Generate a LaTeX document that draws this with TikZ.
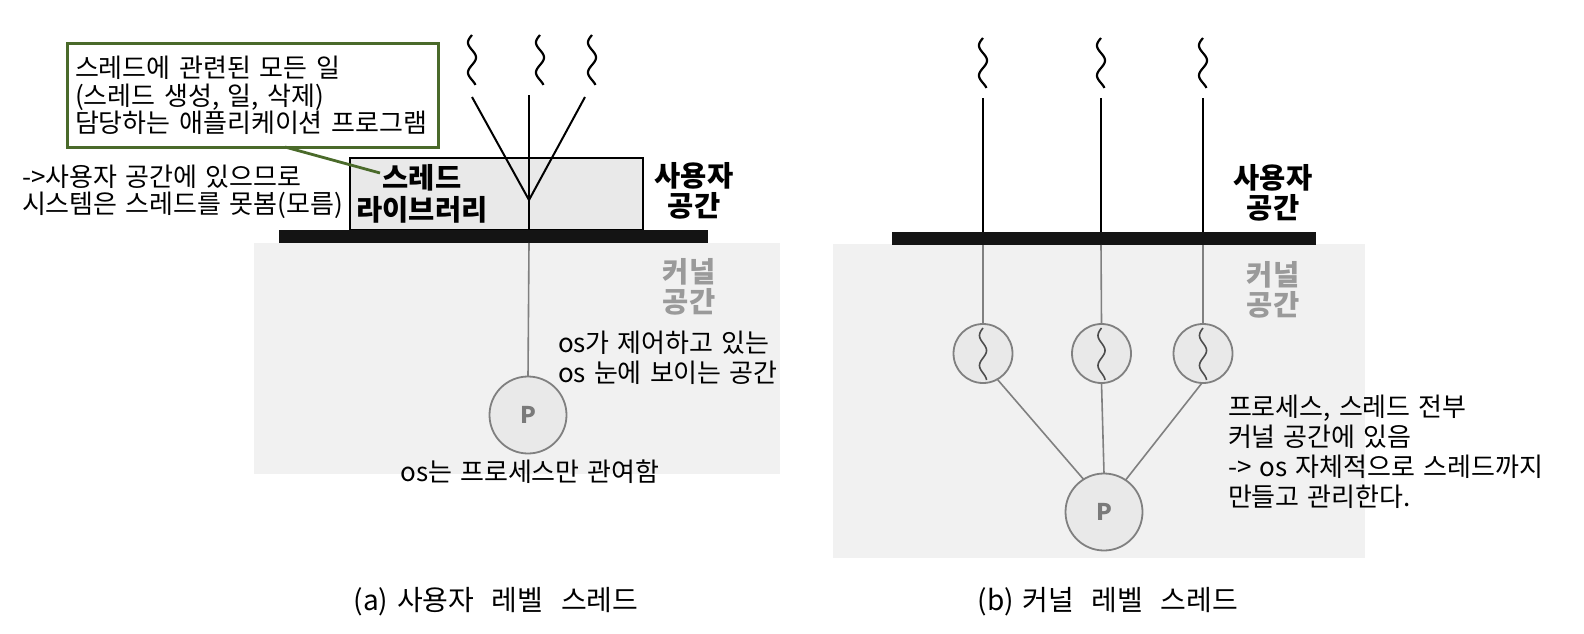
\documentclass[tikz,border=0pt]{standalone}
\usepackage{fontspec}
\setmainfont{Noto Sans CJK KR}[WordSpace=1.4]
\usetikzlibrary{calc}
\definecolor{kgray}{HTML}{F1F1F1}
\definecolor{libfill}{HTML}{E9E9E9}
\definecolor{cgreen}{HTML}{4A6A2A}
\definecolor{lgray}{HTML}{808080}
\definecolor{tgray}{HTML}{9A9A9A}
\definecolor{pgray}{HTML}{7A7A7A}
\definecolor{barblack}{HTML}{141414}
\begin{document}
\begin{tikzpicture}[x=1pt,y=-1pt,
  every node/.style={inner sep=0pt, outer sep=0pt},
  txt/.style={font=\fontsize{26}{28}\selectfont, align=left, anchor=west},
  boldlbl/.style={font=\fontsize{28.5}{30}\selectfont\bfseries, align=center},
  caption/.style={font=\fontsize{28}{30}\selectfont},
  thr/.style={line width=2pt, black},
  kline/.style={line width=1.6pt, lgray},
  tcirc/.style={circle, draw=lgray, line width=1.8pt, fill=libfill, minimum size=59pt},
  pcirc/.style={circle, draw=lgray, line width=1.8pt, fill=libfill, minimum size=77pt,
    font=\fontsize{23}{23}\selectfont\bfseries, text=pgray},
  squig/.pic={\draw[line width=2.2pt, black] plot[domain=0:50,samples=60,smooth] ({-4*sin(\x*12)},\x);},
  isquig/.pic={\draw[line width=1.6pt, black!70] plot[domain=0:52,samples=60,smooth] ({-3.5*sin(\x*12)},\x);}
]
\useasboundingbox (0,0) rectangle (1584,634);

% ---------------- (a) user-level threads ----------------
\fill[kgray] (254,243) rectangle (780,474);
\node[draw=black, line width=1.5pt, fill=libfill, minimum width=293pt, minimum height=72pt, anchor=north west] (lib) at (350,158) {};
\fill[barblack] (279,230) rectangle (708,243);

\node[boldlbl] (libtxt) at (422,193.5) {스레드\\[2pt]라이브러리};

% threads
\pic at (472,35) {squig};
\pic at (540,35) {squig};
\pic at (592,35) {squig};
\coordinate (tA1) at (472,97);
\coordinate (tA2) at (529,95);
\coordinate (tA3) at (585,97);
\coordinate (vA) at (529,200);
\coordinate (barAtop) at (529,230);
\coordinate (barAbot) at (529,243);
\draw[thr] (tA1) -- (vA);
\draw[thr] (tA3) -- (vA);
\draw[thr] (tA2) -- (barAtop);

\node[pcirc] (pA) at (528,415) {P};
\draw[kline] (barAbot) -- (pA.north);

% labels
\node[boldlbl] (userA) at (694,191) {사용자\\공간};
\node[boldlbl, text=tgray] (kernA) at (689,286.5) {커널\\공간};

\node[draw=cgreen, line width=3pt, minimum width=371pt, minimum height=103pt, anchor=north west,
      font=\fontsize{26}{27.5}\selectfont, align=left, text width=355pt, inner xsep=8pt] (callout) at (67,44)
  {스레드에 관련된 모든 일\\(스레드 생성, 일, 삭제)\\담당하는 애플리케이션 프로그램};
\coordinate (cs) at (285,147);
\coordinate (ce) at (380,173);
\draw[cgreen, line width=2.8pt] (cs) -- (ce);

\node[txt, font=\fontsize{26}{27}\selectfont] (noteA) at (22,191.5) {->사용자 공간에 있으므로\\시스템은 스레드를 못봄(모름)};
\node[txt, font=\fontsize{26}{30}\selectfont] (osA) at (558,358) {os가 제어하고 있는\\os 눈에 보이는 공간};
\node[font=\fontsize{26}{29}\selectfont] (osB) at (530,472) {os는 프로세스만 관여함};

\node[caption] (capA) at (496,602) {(a) 사용자 \ 레벨 \ 스레드};

% ---------------- (b) kernel-level threads ----------------
\fill[kgray] (833,244) rectangle (1365,558);
\fill[barblack] (892,232) rectangle (1316,245);

\pic at (983,38) {squig};
\pic at (1101,38) {squig};
\pic at (1203,38) {squig};
\coordinate (tB1) at (983,98);
\coordinate (tB2) at (1101,98);
\coordinate (tB3) at (1203,98);
\coordinate (bB1) at (983,232);
\coordinate (bB2) at (1101,232);
\coordinate (bB3) at (1203,232);
\coordinate (kB1) at (983,245);
\coordinate (kB2) at (1101,245);
\coordinate (kB3) at (1203,245);
\draw[thr] (tB1) -- (bB1);
\draw[thr] (tB2) -- (bB2);
\draw[thr] (tB3) -- (bB3);

\node[tcirc] (t1) at (983,353.5) {};
\node[tcirc] (t2) at (1101.5,353.5) {};
\node[tcirc] (t3) at (1203,353.5) {};
\pic at (983,328) {isquig};
\pic at (1101.5,328) {isquig};
\pic at (1203,328) {isquig};
\node[pcirc] (pB) at (1104,512) {P};

\draw[kline] (kB1) -- (t1.north);
\draw[kline] (kB2) -- (t2.north);
\draw[kline] (kB3) -- (t3.north);
\draw[kline] (t1.-61) -- (pB.122);
\draw[kline] (t2.south) -- (pB.north);
\draw[kline] (t3.-92) -- (pB.56);

\node[boldlbl] (userB) at (1273,193) {사용자\\공간};
\node[boldlbl, text=tgray] (kernB) at (1273,290) {커널\\공간};

\node[txt, font=\fontsize{26}{30}\selectfont] (noteB) at (1228,452)
  {프로세스, 스레드 전부\\커널 공간에 있음\\-> os 자체적으로 스레드까지\\만들고 관리한다.};

\node[caption] (capB) at (1108,602) {(b) 커널 \ 레벨 \ 스레드};
\end{tikzpicture}
\end{document}
